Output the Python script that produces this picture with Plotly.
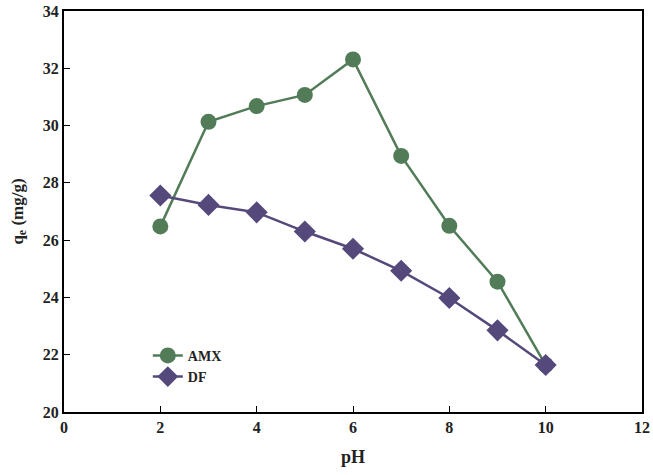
import plotly.graph_objects as go

# pH values and uptake (mg/g)
ph = [2, 3, 4, 5, 6, 7, 8, 9, 10]
amx_qe = [26.48, 30.13, 30.68, 31.07, 32.31, 28.94, 26.50, 24.55, 21.64]
df_qe = [27.56, 27.23, 26.97, 26.30, 25.70, 24.93, 23.98, 22.85, 21.64]

x_ticks = [0, 2, 4, 6, 8, 10, 12]
y_ticks = [20, 22, 24, 26, 28, 30, 32, 34]

green = '#527c58'
purple = '#54497a'
font_family = 'Liberation Serif'

fig = go.Figure()
fig.add_trace(go.Scatter(x=ph, y=amx_qe, name='AMX', mode='lines+markers',
                         line=dict(color=green, width=2.5),
                         marker=dict(symbol='circle', size=16, color=green)))
fig.add_trace(go.Scatter(x=ph, y=df_qe, name='DF', mode='lines+markers',
                         line=dict(color=purple, width=2.5),
                         marker=dict(symbol='diamond', size=17, color=purple)))

axis_common = dict(showgrid=False, zeroline=False, ticks='inside', ticklen=6,
                   tickwidth=1, tickcolor='black', showline=True, linecolor='black',
                   linewidth=2.2, mirror=True, ticklabeloverflow='allow',
                   tickfont=dict(family=font_family, size=16, color='#222', weight='bold'))

fig.update_xaxes(range=[0, 12], tickvals=x_ticks,
                 title=dict(text='<b>pH</b>', font=dict(family=font_family, size=18, color='#222'),
                            standoff=15),
                 **axis_common)
fig.update_yaxes(range=[20, 34], tickvals=y_ticks,
                 title=dict(text='<b>q<sub>e</sub> (mg/g)</b>',
                            font=dict(family=font_family, size=17, color='#222'),
                            standoff=15),
                 **axis_common)

fig.update_layout(
    width=653, height=475,
    margin=dict(l=64, r=3, t=6, b=63),
    plot_bgcolor='white', paper_bgcolor='white',
    legend=dict(x=0.145, y=0.18, xanchor='left', yanchor='top',
                bgcolor='rgba(0,0,0,0)', tracegroupgap=0,
                font=dict(family=font_family, size=14, color='#222', weight='bold')),
)

fig.write_html("out.html", config={'displayModeBar': False},
               post_script="document.body.style.margin='0';")
